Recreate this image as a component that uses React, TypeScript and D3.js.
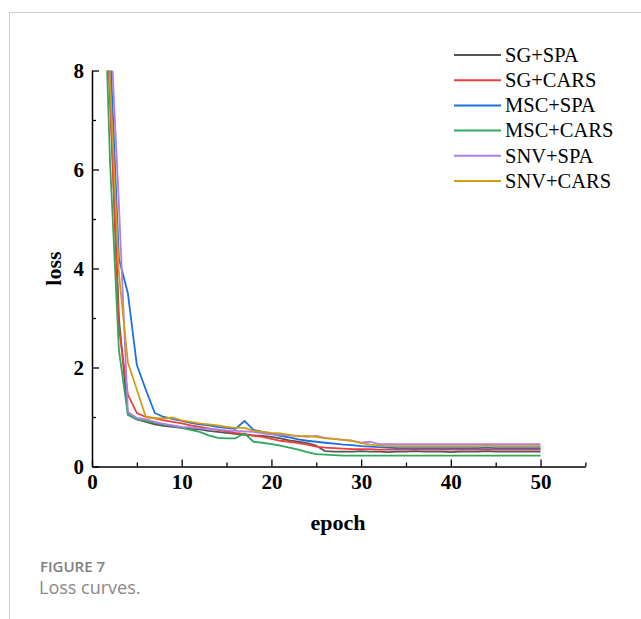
import React, { useEffect, useRef } from "react";
import * as d3 from "d3";

const epochs = [
  1, 2, 3, 4, 5, 6, 7, 8, 9, 10, 11, 12, 13, 14, 15, 16, 17, 18, 19, 20, 21, 22, 23, 24, 25,
  26, 27, 28, 29, 30, 31, 32, 33, 34, 35, 36, 37, 38, 39, 40, 41, 42, 43, 44, 45, 46, 47, 48, 49, 50,
];

// loss values per epoch
const sgSpa = [
  12, 7.6, 3.0, 1.05, 0.95, 0.9, 0.85, 0.82, 0.8, 0.78, 0.76, 0.75, 0.72, 0.7, 0.68, 0.66, 0.64,
  0.63, 0.62, 0.6, 0.57, 0.53, 0.5, 0.47, 0.42, 0.31, 0.3, 0.3, 0.3, 0.31, 0.3, 0.3, 0.29, 0.3,
  0.3, 0.31, 0.3, 0.3, 0.3, 0.29, 0.3, 0.3, 0.3, 0.31, 0.3, 0.3, 0.3, 0.3, 0.3, 0.3,
];
const sgCars = [
  12, 7.5, 2.8, 1.45, 1.08, 1.0, 0.97, 0.93, 0.9, 0.87, 0.83, 0.8, 0.77, 0.74, 0.71, 0.68, 0.66,
  0.62, 0.6, 0.56, 0.52, 0.5, 0.47, 0.44, 0.4, 0.38, 0.37, 0.36, 0.35, 0.35, 0.35, 0.34, 0.34,
  0.34, 0.34, 0.34, 0.34, 0.34, 0.34, 0.34, 0.34, 0.34, 0.34, 0.34, 0.34, 0.34, 0.34, 0.34, 0.34, 0.34,
];
const mscSpa = [
  12, 8.5, 4.2, 3.5, 2.05, 1.55, 1.08, 1.0, 0.96, 0.92, 0.88, 0.85, 0.83, 0.8, 0.78, 0.76, 0.92,
  0.74, 0.7, 0.66, 0.62, 0.59, 0.55, 0.52, 0.5, 0.48, 0.46, 0.44, 0.43, 0.41, 0.4, 0.39, 0.38,
  0.37, 0.37, 0.37, 0.37, 0.37, 0.37, 0.37, 0.37, 0.37, 0.37, 0.38, 0.37, 0.37, 0.37, 0.37, 0.37, 0.37,
];
const mscCars = [
  12, 6.2, 2.35, 1.04, 0.95, 0.92, 0.88, 0.85, 0.82, 0.78, 0.74, 0.7, 0.63, 0.58, 0.57, 0.57,
  0.67, 0.5, 0.48, 0.45, 0.42, 0.38, 0.34, 0.29, 0.25, 0.24, 0.23, 0.22, 0.22, 0.22, 0.22, 0.22,
  0.22, 0.22, 0.22, 0.22, 0.22, 0.22, 0.22, 0.22, 0.22, 0.22, 0.22, 0.22, 0.22, 0.22, 0.22, 0.22, 0.22, 0.22,
];
const snvSpa = [
  13, 9.1, 5.3, 1.1, 0.98, 0.95, 0.9, 0.86, 0.83, 0.8, 0.79, 0.77, 0.76, 0.75, 0.73, 0.72, 0.71,
  0.7, 0.67, 0.65, 0.64, 0.63, 0.62, 0.6, 0.62, 0.58, 0.56, 0.54, 0.52, 0.48, 0.5, 0.45, 0.45,
  0.45, 0.45, 0.45, 0.45, 0.45, 0.45, 0.45, 0.45, 0.45, 0.45, 0.45, 0.45, 0.45, 0.45, 0.45, 0.45, 0.45,
];
const snvCars = [
  12, 7.8, 3.9, 2.1, 1.55, 1.0, 0.98, 0.97, 0.99, 0.93, 0.9, 0.87, 0.85, 0.83, 0.8, 0.78, 0.78,
  0.72, 0.7, 0.68, 0.67, 0.64, 0.61, 0.62, 0.6, 0.57, 0.56, 0.54, 0.52, 0.47, 0.44, 0.42, 0.41,
  0.41, 0.41, 0.41, 0.41, 0.41, 0.41, 0.41, 0.41, 0.41, 0.41, 0.42, 0.41, 0.41, 0.41, 0.41, 0.41, 0.41,
];

const seriesNames = ["SG+SPA", "SG+CARS", "MSC+SPA", "MSC+CARS", "SNV+SPA", "SNV+CARS"];
const seriesValues = [sgSpa, sgCars, mscSpa, mscCars, snvSpa, snvCars];
const colors = ["#555555", "#ee3e3e", "#1c6fe0", "#2fa85e", "#b07ee8", "#d39c12"];

const xMajor = [0, 10, 20, 30, 40, 50];
const xMinor = [5, 15, 25, 35, 45, 55];
const yMajor = [0, 2, 4, 6, 8];
const yMinor = [1, 3, 5, 7];

export default function App() {
  const svgRef = useRef<SVGSVGElement>(null);

  useEffect(() => {
    const w = 641;
    const h = 619;
    const svg = d3.select(svgRef.current);
    svg.selectAll("*").remove();
    svg.attr("width", w).attr("height", h);

    // page frame
    svg.append("line").attr("x1", 9.5).attr("x2", 9.5).attr("y1", 12).attr("y2", h).attr("stroke", "#cccccc");
    svg.append("line").attr("x1", 9).attr("x2", w).attr("y1", 12.5).attr("y2", 12.5).attr("stroke", "#cccccc");

    const x = d3.scaleLinear().domain([0, 55]).range([92, 585.4]);
    const y = d3.scaleLinear().domain([0, 8]).range([466.5, 70.5]);

    const font = "'Liberation Serif', 'Times New Roman', serif";

    // x axis
    const gx = svg.append("g").attr("transform", `translate(0, ${y(0)})`);
    gx.call(d3.axisBottom(x).tickValues(xMajor).tickSize(-7).tickSizeOuter(0).tickPadding(8));
    gx.append("g").call(d3.axisBottom(x).tickValues(xMinor).tickSize(-4).tickSizeOuter(0).tickFormat(() => ""));
    gx.selectAll("g g path").remove();

    // y axis
    const gy = svg.append("g").attr("transform", `translate(${x(0)}, 0)`);
    gy.call(d3.axisLeft(y).tickValues(yMajor).tickSize(-7).tickSizeOuter(0).tickPadding(8));
    gy.append("g").call(d3.axisLeft(y).tickValues(yMinor).tickSize(-4).tickSizeOuter(0).tickFormat(() => ""));
    gy.selectAll("g g path").remove();

    svg.selectAll(".domain").attr("stroke", "#000").attr("stroke-width", 1.5);
    svg.selectAll(".tick line").attr("stroke", "#000").attr("stroke-width", 1.3);
    svg
      .selectAll(".tick text")
      .attr("fill", "#000")
      .style("font-family", font)
      .style("font-weight", "bold")
      .style("font-size", "21px");

    // axis titles
    svg
      .append("text")
      .attr("transform", `translate(61, ${y(4)}) rotate(-90)`)
      .attr("text-anchor", "middle")
      .style("font-family", font)
      .style("font-weight", "bold")
      .style("font-size", "22px")
      .text("loss");
    svg
      .append("text")
      .attr("x", 338)
      .attr("y", 530)
      .attr("text-anchor", "middle")
      .style("font-family", font)
      .style("font-weight", "bold")
      .style("font-size", "22px")
      .text("epoch");

    // curves
    svg
      .append("clipPath")
      .attr("id", "plot-clip")
      .append("rect")
      .attr("x", x(0))
      .attr("y", y(8))
      .attr("width", x(55) - x(0))
      .attr("height", y(0) - y(8));

    const line = d3
      .line<number>()
      .x((d, i) => x(epochs[i]))
      .y((d) => y(d));

    svg
      .append("g")
      .attr("clip-path", "url(#plot-clip)")
      .selectAll(".curve")
      .data(seriesValues)
      .enter()
      .append("path")
      .attr("class", "curve")
      .attr("fill", "none")
      .attr("stroke", (d, i) => colors[i])
      .attr("stroke-width", 1.8)
      .attr("stroke-linejoin", "round")
      .attr("d", line);

    // legend
    const legend = svg
      .append("g")
      .selectAll("g")
      .data(seriesNames)
      .enter()
      .append("g")
      .attr("transform", (d, i) => `translate(454, ${55 + i * 25.2})`);
    legend
      .append("line")
      .attr("x1", 0)
      .attr("x2", 47)
      .attr("stroke", (d, i) => colors[i])
      .attr("stroke-width", 2);
    legend
      .append("text")
      .attr("x", 51)
      .attr("dy", "0.33em")
      .style("font-family", font)
      .style("font-size", "20.5px")
      .text((d) => d);

    // caption
    svg
      .append("text")
      .attr("x", 40)
      .attr("y", 572)
      .attr("fill", "#808080")
      .style("font-family", "'Open Sans', sans-serif")
      .style("font-weight", "600")
      .style("font-size", "15px")
      .text("FIGURE 7");
    svg
      .append("text")
      .attr("x", 39)
      .attr("y", 594)
      .attr("fill", "#888888")
      .style("font-family", "'Open Sans', sans-serif")
      .style("font-size", "18px")
      .text("Loss curves.");
  }, []);

  return (
    <div style={{ position: "absolute", left: 0, top: 0 }}>
      <svg ref={svgRef}></svg>
    </div>
  );
}
